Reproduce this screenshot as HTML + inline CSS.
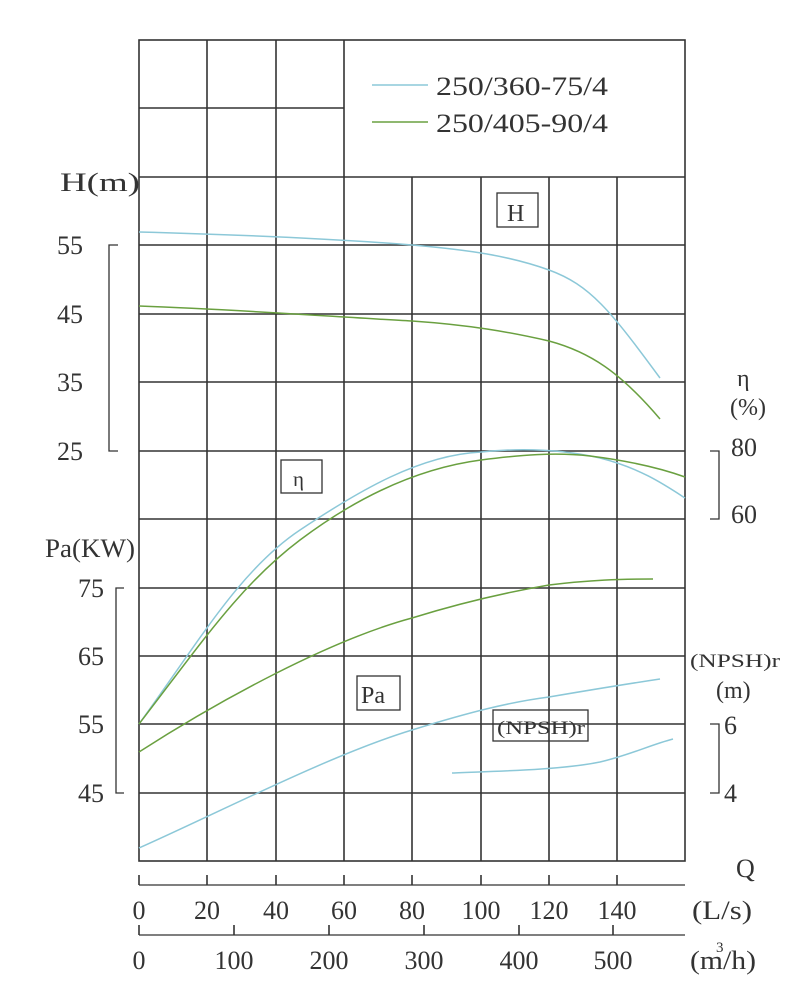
<!DOCTYPE html>
<html><head><style>
html,body{margin:0;padding:0;background:#fff;}
svg{display:block;}
text{font-family:"Liberation Serif","Noto Serif CJK SC",serif;fill:#333;}
</style></head><body>
<svg width="812" height="1000" viewBox="0 0 812 1000" xmlns="http://www.w3.org/2000/svg">
<g stroke="#333" stroke-width="1.6" fill="none">
<rect x="139" y="40" width="546" height="821"/>
<line x1="139" y1="108" x2="344" y2="108"/>
<line x1="139" y1="177" x2="685" y2="177"/>
<line x1="139" y1="245" x2="685" y2="245"/>
<line x1="139" y1="314" x2="685" y2="314"/>
<line x1="139" y1="382" x2="685" y2="382"/>
<line x1="139" y1="451" x2="685" y2="451"/>
<line x1="139" y1="519" x2="685" y2="519"/>
<line x1="139" y1="588" x2="685" y2="588"/>
<line x1="139" y1="656" x2="685" y2="656"/>
<line x1="139" y1="724" x2="685" y2="724"/>
<line x1="139" y1="793" x2="685" y2="793"/>
<line x1="207" y1="40" x2="207" y2="861"/>
<line x1="276" y1="40" x2="276" y2="861"/>
<line x1="344" y1="40" x2="344" y2="861"/>
<line x1="412" y1="177" x2="412" y2="861"/>
<line x1="481" y1="177" x2="481" y2="861"/>
<line x1="549" y1="177" x2="549" y2="861"/>
<line x1="617" y1="177" x2="617" y2="861"/>
<polyline points="118,245 109,245 109,451 118,451" stroke-width="1.3"/>
<polyline points="124,588 116,588 116,793 124,793" stroke-width="1.3"/>
<polyline points="710,451 719,451 719,519 710,519" stroke-width="1.3"/>
<polyline points="710,724 719,724 719,793 710,793" stroke-width="1.3"/>
<line x1="139" y1="885" x2="685" y2="885" stroke-width="1.3"/>
<line x1="139" y1="875" x2="139" y2="885"/><line x1="207" y1="875" x2="207" y2="885"/>
<line x1="276" y1="875" x2="276" y2="885"/><line x1="344" y1="875" x2="344" y2="885"/>
<line x1="412" y1="875" x2="412" y2="885"/><line x1="481" y1="875" x2="481" y2="885"/>
<line x1="549" y1="875" x2="549" y2="885"/><line x1="617" y1="875" x2="617" y2="885"/>
<line x1="139" y1="935" x2="685" y2="935" stroke-width="1.3"/>
<line x1="139" y1="925" x2="139" y2="935"/><line x1="234" y1="925" x2="234" y2="935"/>
<line x1="329" y1="925" x2="329" y2="935"/><line x1="424" y1="925" x2="424" y2="935"/>
<line x1="519" y1="925" x2="519" y2="935"/><line x1="613" y1="925" x2="613" y2="935"/>
<rect x="497" y="193" width="41" height="34" stroke-width="1.3"/>
<rect x="281" y="460" width="41" height="33" stroke-width="1.3"/>
<rect x="357" y="676" width="43" height="34" stroke-width="1.3"/>
<rect x="493" y="710" width="95" height="31" stroke-width="1.3"/>
</g>
<line x1="372" y1="85" x2="428" y2="85" stroke="#8cc8d8" stroke-width="1.5"/>
<line x1="372" y1="122" x2="428" y2="122" stroke="#6aa040" stroke-width="1.5"/>
<g font-size="26">
<text x="436" y="95" textLength="172" lengthAdjust="spacingAndGlyphs">250/360-75/4</text>
<text x="436" y="132" textLength="172" lengthAdjust="spacingAndGlyphs">250/405-90/4</text>
<text x="507" y="221" font-size="24">H</text>
<text x="293" y="486" font-size="21">η</text>
<text x="361" y="703" font-size="24">Pa</text>
<text x="497" y="734" font-size="19" textLength="88" lengthAdjust="spacingAndGlyphs">(NPSH)r</text>
<text x="60" y="191" textLength="80" lengthAdjust="spacingAndGlyphs">H(m)</text>
<text x="57" y="254">55</text>
<text x="57" y="323">45</text>
<text x="57" y="391">35</text>
<text x="57" y="460">25</text>
<text x="45" y="557" textLength="90" lengthAdjust="spacingAndGlyphs">Pa(KW)</text>
<text x="78" y="597">75</text>
<text x="78" y="665">65</text>
<text x="78" y="733">55</text>
<text x="78" y="802">45</text>
<text x="737" y="386" font-size="24">η</text>
<text x="730" y="415" font-size="24">(%)</text>
<text x="731" y="456">80</text>
<text x="731" y="523">60</text>
<text x="690" y="667" font-size="19" textLength="90" lengthAdjust="spacingAndGlyphs">(NPSH)r</text>
<text x="716" y="698" font-size="24">(m)</text>
<text x="724" y="734">6</text>
<text x="724" y="802">4</text>
<text x="736" y="877">Q</text>
<text x="692" y="919" textLength="60" lengthAdjust="spacingAndGlyphs">(L/s)</text>
<text x="690" y="969" textLength="66" lengthAdjust="spacingAndGlyphs">(m/h)</text>
<text x="716" y="952" font-size="15">3</text>
</g>
<g font-size="26" text-anchor="middle">
<text x="139" y="919">0</text><text x="207" y="919">20</text><text x="276" y="919">40</text>
<text x="344" y="919">60</text><text x="412" y="919">80</text><text x="481" y="919">100</text>
<text x="549" y="919">120</text><text x="617" y="919">140</text>
<text x="139" y="969">0</text><text x="234" y="969">100</text><text x="329" y="969">200</text>
<text x="424" y="969">300</text><text x="519" y="969">400</text><text x="613" y="969">500</text>
</g>
<g fill="none" stroke-width="1.5">
<path d="M139,232 C250,235 350,240 412,245 C470,250 510,256 549,270 C590,285 610,310 660,378" stroke="#8cc8d8"/>
<path d="M139,306 C250,310 350,318 412,321 C470,325 510,332 549,341 C590,352 620,372 660,419" stroke="#6aa040"/>
<path d="M139,724 C200,640 240,570 300,530 C360,490 420,455 481,452 C520,448 560,449 600,458 C640,468 665,485 685,498" stroke="#8cc8d8"/>
<path d="M139,724 C200,645 240,585 300,540 C360,495 420,468 481,460 C520,455 555,452 590,456 C630,461 660,468 685,477" stroke="#6aa040"/>
<path d="M139,752 C220,700 330,640 412,618 C470,600 520,590 549,585 C590,580 620,579 653,579" stroke="#6aa040"/>
<path d="M139,848 C220,812 330,755 412,730 C470,712 510,702 549,697 C590,690 620,685 660,679" stroke="#8cc8d8"/>
<path d="M452,773 C500,771 560,770 600,762 C630,755 650,745 673,739" stroke="#8cc8d8"/>
</g>
</svg>
</body></html>
